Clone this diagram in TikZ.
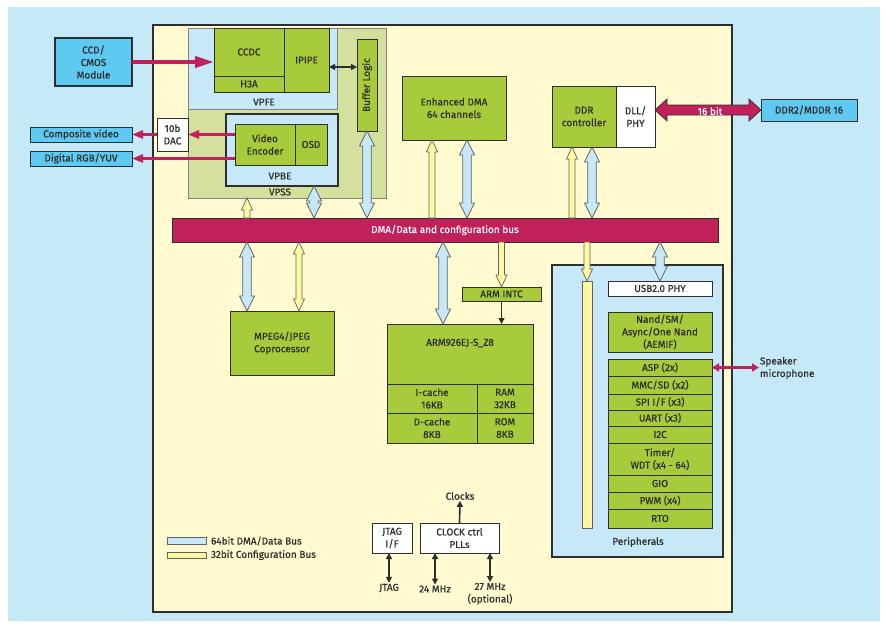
\documentclass[tikz,border=0pt]{standalone}
\usepackage{fontspec}
\setmainfont{Fira Sans}[FakeBold=0.6]
\usetikzlibrary{arrows.meta, positioning, calc}

\definecolor{skyback}{HTML}{C6E9F8}
\definecolor{chipfill}{HTML}{FFFACF}
\definecolor{leaf}{HTML}{A8CB3B}
\definecolor{sage}{HTML}{D3E09E}
\definecolor{paleblue}{HTML}{C6E8F8}
\definecolor{cyanbox}{HTML}{5EC9F1}
\definecolor{berry}{HTML}{C0215A}
\definecolor{butter}{HTML}{FFF7A1}
\definecolor{ink}{HTML}{2E2E2E}

\begin{document}
\begin{tikzpicture}[
    x=1pt, y=-1pt,
    font=\fontsize{10}{12.5}\selectfont,
    every node/.style={inner sep=1pt, outer sep=0pt, text=ink, align=center},
    sz/.style 2 args={minimum width=#1, minimum height=#2},
    gbox/.style={draw=ink, line width=0.8, fill=leaf},
    wbox/.style={draw=ink, line width=0.8, fill=white},
    cbox/.style={draw=ink, line width=0.8, fill=cyanbox},
    area/.style={draw=ink!60, line width=0.6},
    heavy/.style={draw=ink, line width=2},
    tag/.style={draw=none, fill=none},
    sig/.style={draw=berry, line width=3, -{Triangle[length=11pt, width=8pt]}},
    wire/.style={draw=ink, line width=1.6, {Triangle[length=6pt, width=6pt]}-{Triangle[length=6pt, width=6pt]}},
    twohead/.style n args={4}{to path={-- ($(\tikztostart)!#1pt!#2:(\tikztotarget)$) -- ($(\tikztostart)!#3pt!#4:(\tikztotarget)$) -- ($(\tikztotarget)!#3pt!-#4:(\tikztostart)$) -- ($(\tikztotarget)!#1pt!-#2:(\tikztostart)$) -- (\tikztotarget) -- ($(\tikztotarget)!#1pt!#2:(\tikztostart)$) -- ($(\tikztotarget)!#3pt!#4:(\tikztostart)$) -- ($(\tikztostart)!#3pt!-#4:(\tikztotarget)$) -- ($(\tikztostart)!#1pt!-#2:(\tikztotarget)$) -- cycle}},
    onehead/.style n args={5}{to path={-- ($(\tikztostart)!#5pt!90:(\tikztotarget)$) -- ($(\tikztotarget)!#3pt!-#4:(\tikztostart)$) -- ($(\tikztotarget)!#1pt!-#2:(\tikztostart)$) -- (\tikztotarget) -- ($(\tikztotarget)!#1pt!#2:(\tikztostart)$) -- ($(\tikztotarget)!#3pt!#4:(\tikztostart)$) -- ($(\tikztostart)!#5pt!-90:(\tikztotarget)$) -- cycle}},
    busboth/.style={twohead={16.77}{26.57}{15.6}{16}, draw=ink!75, line width=0.7, fill=paleblue},
    cfgboth/.style={twohead={13.2}{24.62}{12.37}{14.04}, draw=ink!75, line width=0.7, fill=butter},
    cfgone/.style={onehead={13.2}{24.62}{12.37}{14.04}{3}, draw=ink!75, line width=0.7, fill=butter},
    wideboth/.style={twohead={16.28}{42.5}{13}{22.62}, draw=ink, line width=0.7, fill=berry}
]
\useasboundingbox (0,0) rectangle (885,626);
\fill[white] (0,0) rectangle (885,626);
\fill[skyback] (8,7) rectangle (880,621);

% Chip outline
\node[heavy, fill=chipfill, sz={579}{587}] (chip) at (442.5,318.5) {};

% Video processing subsystem
\node[area, fill=sage, sz={198}{170}] (vpss) at (287,113) {};
\node[area, fill=paleblue, sz={149}{81}] (vpfe) at (262.5,68.5) {};
\node[gbox, sz={70}{48}] (ccdc) at (249,52) {CCDC};
\node[gbox, sz={70}{16}] (h3a) at (249,84) {H3A};
\node[gbox, sz={45}{64}] (ipipe) at (306.5,60) {IPIPE};
\node[tag] (vpfelbl) at (264,102) {VPFE};
\node[gbox, sz={92}{20}, rotate=90] (buffer) at (367,85) {Buffer Logic};
\node[heavy, fill=paleblue, sz={112}{72}] (vpbe) at (282,150) {};
\node[gbox, sz={60}{41}] (venc) at (265,144.5) {Video\\Encoder};
\node[gbox, sz={32}{41}] (osd) at (311,144.5) {OSD};
\node[tag] (vpbelbl) at (280,176) {VPBE};
\node[tag] (vpsslbl) at (280,192) {VPSS};
\draw[wire] (ipipe.east |- 0,67) -- (buffer.north |- 0,67);

% Video in and out
\node[wbox, sz={31}{33}] (dac) at (172.5,134.5) {10b\\DAC};
\node[cbox, sz={102}{15}] (compv) at (81,134.5) {Composite video};
\node[cbox, sz={102}{15}] (rgb) at (81,158.5) {Digital RGB/YUV};
\node[cbox, line width=1.2, sz={77}{48}] (ccd) at (93.5,62) {CCD/\\CMOS\\Module};
\draw[sig, line width=4, -{Triangle[length=19pt, width=11pt]}] (ccd.east) -- (ccdc.west |- ccd.east);
\draw[sig] (venc.west |- dac.east) -- (dac.east);
\draw[sig] (dac.west) -- (compv.east);
\draw[sig] (venc.west |- rgb.east) -- (rgb.east);

% Bus and masters
\node[draw=ink, line width=0.8, fill=berry, sz={546}{24}, text=white] (bus) at (445,230) {DMA/Data and configuration bus};
\node[gbox, sz={104}{64}] (edma) at (454,108) {Enhanced DMA\\64 channels};
\node[gbox, sz={64}{61}] (ddrc) at (584,116.5) {DDR\\controller};
\node[wbox, sz={39}{61}] (dll) at (635.5,116.5) {DLL/\\PHY};
\node[cbox, sz={96}{22}] (ddr2) at (809,110) {DDR2/MDDR 16};
\draw[wideboth] (dll.east |- 0,110) to (ddr2.west |- 0,110);
\node[tag, text=white] (bitlbl) at (710,111) {16 bit};

\node[gbox, sz={104}{64}] (mpeg) at (282,343) {MPEG4/JPEG\\Coprocessor};
\node[gbox, sz={79}{14}] (intc) at (501.5,294) {ARM INTC};
\node[gbox, sz={146}{60}] (arm) at (460,354) {};
\node[tag] (armlbl) at (460,343) {ARM926EJ-S\_Z8};
\node[gbox, sz={90}{29}] (icache) at (432,398.5) {I-cache\\16KB};
\node[gbox, sz={56}{29}] (ram) at (505,398.5) {RAM\\32KB};
\node[gbox, sz={90}{30}] (dcache) at (432,428) {D-cache\\8KB};
\node[gbox, sz={56}{30}] (rom) at (505,428) {ROM\\8KB};
\draw[draw=ink, line width=1.6, -{Triangle[length=6pt, width=6pt]}] (intc.south) -- (intc.south |- arm.north);

% Peripherals
\node[heavy, fill=paleblue, sz={171}{292}] (periph) at (637.5,411) {};
\node[tag] (periphlbl) at (638,542) {Peripherals};
\node[draw=ink!75, line width=0.7, fill=butter, sz={10}{247}] (cfgbar) at (587,404.5) {};
\node[wbox, sz={104}{15}] (usb) at (660,288.5) {USB2.0 PHY};
\node[gbox, sz={104}{40}] (nand) at (660,332) {Nand/SM/\\Async/One Nand\\(AEMIF)};
\node[gbox, sz={104}{17}] (asp) at (660,367.5) {ASP (2x)};
\node[gbox, sz={104}{18}] (mmc) at (660,385) {MMC/SD (x2)};
\node[gbox, sz={104}{16}] (spi) at (660,402) {SPI I/F (x3)};
\node[gbox, sz={104}{16}] (uart) at (660,418) {UART (x3)};
\node[gbox, sz={104}{17}] (i2c) at (660,434.5) {I2C};
\node[gbox, sz={104}{32}] (timer) at (660,459) {Timer/\\WDT (x4 - 64)};
\node[gbox, sz={104}{17}] (gio) at (660,483.5) {GIO};
\node[gbox, sz={104}{17}] (pwm) at (660,500.5) {PWM (x4)};
\node[gbox, sz={104}{19}] (rto) at (660,518.5) {RTO};
\node[tag, anchor=west, align=left] (spk) at (759,368) {Speaker\\microphone};
\draw[berry, line width=2.5, {Triangle[length=7pt, width=8pt]}-{Triangle[length=7pt, width=8pt]}] (asp.east) -- (spk.west |- asp.east);

% Bus arrows
\draw[busboth] (vpbe.south -| 314,0) to (bus.north -| 314,0);
\draw[busboth] (buffer.west) to (bus.north -| buffer.west);
\draw[busboth] (edma.south -| 467,0) to (bus.north -| 467,0);
\draw[busboth] (ddrc.south -| 592,0) to (bus.north -| 592,0);
\draw[busboth] (bus.south -| 247,0) to (mpeg.north -| 247,0);
\draw[busboth] (bus.south -| 443,0) to (arm.north -| 443,0);
\draw[busboth] (bus.south -| usb.north) to (usb.north);
\draw[cfgone] (bus.north -| 247,0) to (vpss.south -| 247,0);
\draw[cfgone] (bus.north -| 432,0) to (edma.south -| 432,0);
\draw[cfgone] (bus.north -| 572,0) to (ddrc.south -| 572,0);
\draw[cfgone] (bus.south -| intc.north) to (intc.north);
\draw[cfgone] (bus.south -| cfgbar.north) to (cfgbar.north);
\draw[cfgboth] (bus.south -| 299,0) to (mpeg.north -| 299,0);

% Legend
\node[draw=ink!75, line width=0.7, fill=paleblue, sz={39}{7}] (key64) at (186.5,540.5) {};
\node[tag, anchor=west] (key64lbl) at (210,541) {64bit DMA/Data Bus};
\node[draw=ink!75, line width=0.7, fill=butter, sz={39}{6}] (key32) at (186.5,555) {};
\node[tag, anchor=west] (key32lbl) at (210,555) {32bit Configuration Bus};

% Debug and clocks
\node[wbox, sz={40}{30}] (jtagif) at (392,538) {JTAG\\I/F};
\node[wbox, sz={79}{30}] (clk) at (459.5,538) {CLOCK ctrl\\PLLs};
\node[tag] (clocks) at (460,496) {Clocks};
\node[tag] (jtag) at (389,588) {JTAG};
\node[tag] (mhz24) at (435,589) {24 MHz};
\node[tag, anchor=north] (mhz27) at (490,582) {27 MHz\\(optional)};
\draw[draw=ink, line width=1.6, -{Triangle[length=6pt, width=6pt]}] (clk.north) -- (clocks.south);
\draw[wire] (jtagif.south -| jtag.north) -- (jtag.north);
\draw[wire] (clk.south -| mhz24.north) -- (mhz24.north);
\draw[wire] (clk.south -| mhz27.north) -- (mhz27.north);

\end{tikzpicture}
\end{document}
